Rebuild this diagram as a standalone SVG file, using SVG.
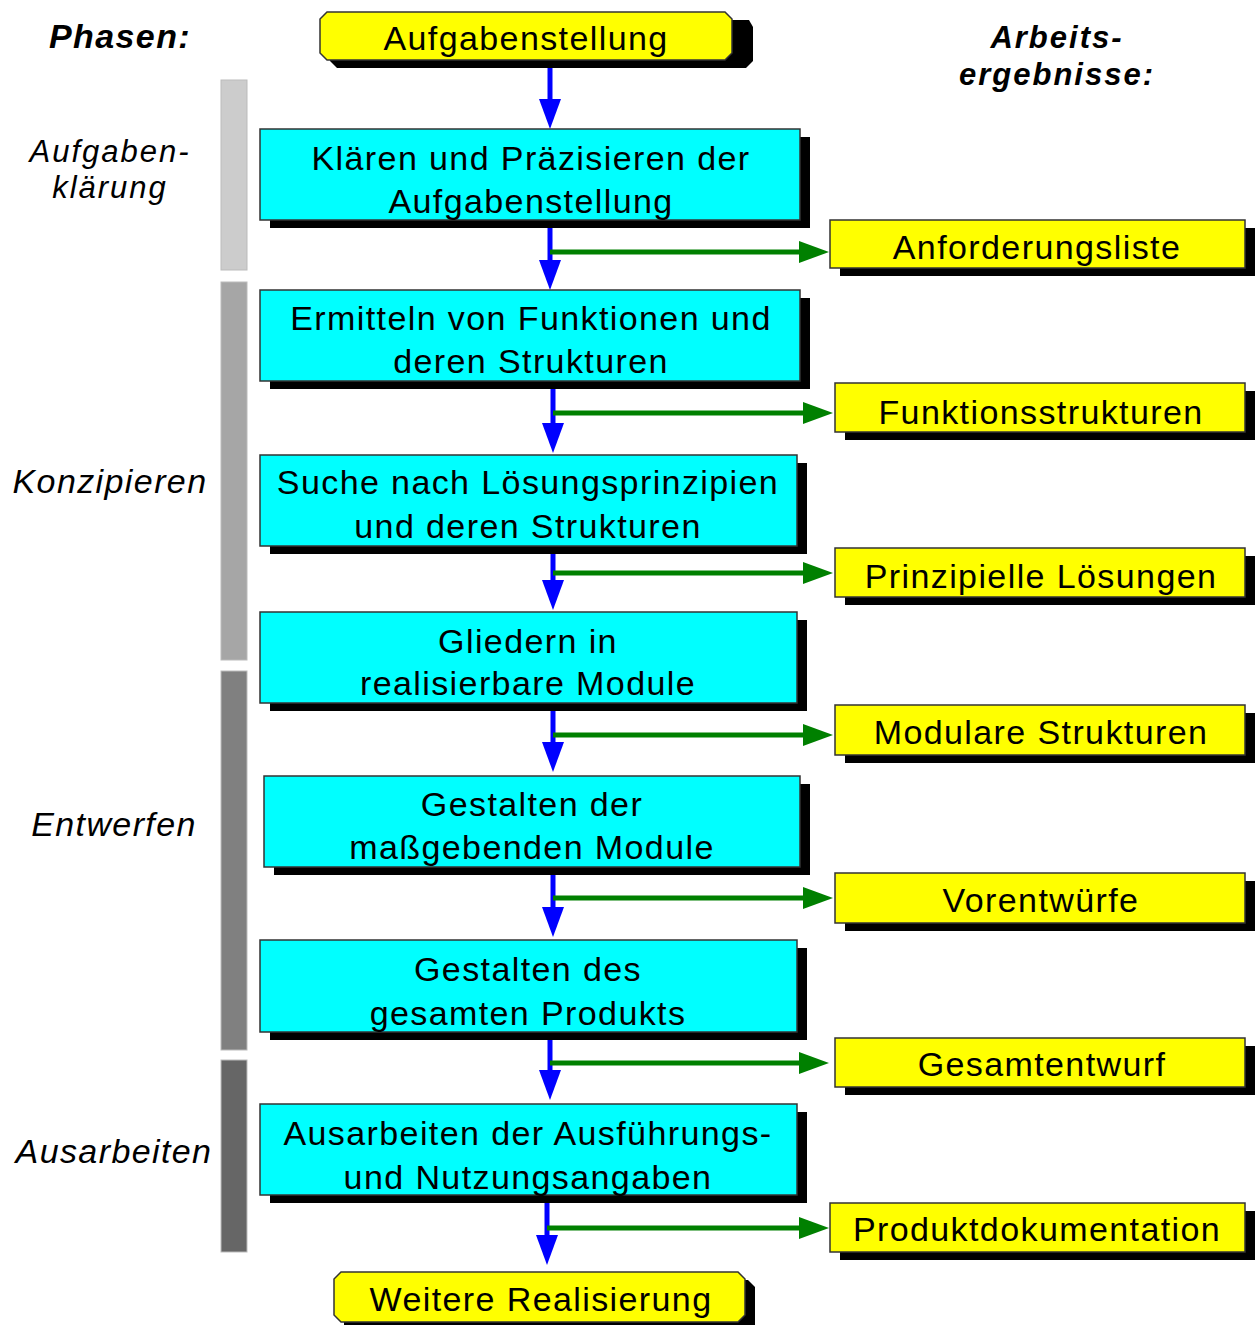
<svg xmlns="http://www.w3.org/2000/svg" width="1257" height="1325" viewBox="0 0 1257 1325">
<defs>
<style>
text{font-family:"Liberation Sans",Arial,sans-serif;font-size:34px;letter-spacing:1.4px;fill:#000;text-anchor:middle}
.it{font-style:italic}
.bi{font-style:italic;font-weight:bold}
.sm{font-size:31px;letter-spacing:2px}
.step{fill:#00ffff;stroke:#333;stroke-width:1.5}
.res{fill:#ffff00;stroke:#333;stroke-width:1.5}
.sh{fill:#000}
.bar{stroke:#bbb;stroke-width:1}
.flow{stroke:#0000ff;stroke-width:5;fill:none}
.out{stroke:#008000;stroke-width:5;fill:none}
</style>
<marker id="ab" markerUnits="userSpaceOnUse" viewBox="0 0 30 22" markerWidth="30" markerHeight="22" refX="0" refY="11" orient="auto">
<path d="M0,0 L30,11 L0,22 Z" fill="#0000ff"/>
</marker>
<marker id="ag" markerUnits="userSpaceOnUse" viewBox="0 0 30 22" markerWidth="30" markerHeight="22" refX="0" refY="11" orient="auto">
<path d="M0,0 L30,11 L0,22 Z" fill="#008000"/>
</marker>
</defs>
<rect width="1257" height="1325" fill="#fff"/>

<g id="phases">
<rect class="bar" x="221" y="80" width="26" height="190" fill="#cccccc"/>
<rect class="bar" x="221" y="282" width="26" height="378" fill="#a6a6a6"/>
<rect class="bar" x="221" y="671" width="26" height="379" fill="#808080"/>
<rect class="bar" x="221" y="1060" width="26" height="192" fill="#666666"/>
<text class="bi" x="120" y="48">Phasen:</text>
<text class="it sm" x="110" y="162">Aufgaben-</text>
<text class="it sm" x="110" y="198">klärung</text>
<text class="it" x="110" y="493">Konzipieren</text>
<text class="it" x="114" y="836">Entwerfen</text>
<text class="it" x="114" y="1163">Ausarbeiten</text>
<text class="bi sm" x="1057" y="48">Arbeits-</text>
<text class="bi sm" x="1057" y="85">ergebnisse:</text>
</g>

<g id="connectors">
<line class="flow" x1="550" y1="68" x2="550" y2="99" marker-end="url(#ab)"/>
<line class="flow" x1="550" y1="228" x2="550" y2="260" marker-end="url(#ab)"/>
<line class="flow" x1="553" y1="388" x2="553" y2="423" marker-end="url(#ab)"/>
<line class="flow" x1="553" y1="552" x2="553" y2="580" marker-end="url(#ab)"/>
<line class="flow" x1="553" y1="710" x2="553" y2="742" marker-end="url(#ab)"/>
<line class="flow" x1="553" y1="874" x2="553" y2="907" marker-end="url(#ab)"/>
<line class="flow" x1="550" y1="1038" x2="550" y2="1070" marker-end="url(#ab)"/>
<line class="flow" x1="547" y1="1202" x2="547" y2="1235" marker-end="url(#ab)"/>
<line class="out" x1="550" y1="252" x2="799" y2="252" marker-end="url(#ag)"/>
<line class="out" x1="553" y1="413" x2="803" y2="413" marker-end="url(#ag)"/>
<line class="out" x1="553" y1="573" x2="803" y2="573" marker-end="url(#ag)"/>
<line class="out" x1="553" y1="735" x2="803" y2="735" marker-end="url(#ag)"/>
<line class="out" x1="553" y1="898" x2="803" y2="898" marker-end="url(#ag)"/>
<line class="out" x1="550" y1="1063" x2="799" y2="1063" marker-end="url(#ag)"/>
<line class="out" x1="547" y1="1228" x2="799" y2="1228" marker-end="url(#ag)"/>
</g>

<g id="start">
<polygon class="sh" points="337,20 749,20 753,27 753,61 746,68 337,68 330,61 330,27"/>
<polygon class="res" points="327,12 725,12 732,19 732,53 725,60 327,60 320,53 320,19"/>
<text x="526" y="50">Aufgabenstellung</text>
</g>

<g id="s1">
<rect class="sh" x="270" y="137" width="540" height="91"/>
<rect class="step" x="260" y="129" width="540" height="91"/>
<text x="531" y="170">Klären und Präzisieren der</text>
<text x="531" y="213">Aufgabenstellung</text>
</g>
<g id="s2">
<rect class="sh" x="270" y="298" width="540" height="91"/>
<rect class="step" x="260" y="290" width="540" height="91"/>
<text x="531" y="330">Ermitteln von Funktionen und</text>
<text x="531" y="373">deren Strukturen</text>
</g>
<g id="s3">
<rect class="sh" x="270" y="463" width="537" height="91"/>
<rect class="step" x="260" y="455" width="537" height="91"/>
<text x="528" y="494">Suche nach Lösungsprinzipien</text>
<text x="528" y="538">und deren Strukturen</text>
</g>
<g id="s4">
<rect class="sh" x="270" y="620" width="537" height="91"/>
<rect class="step" x="260" y="612" width="537" height="91"/>
<text x="528" y="653">Gliedern in</text>
<text x="528" y="695">realisierbare Module</text>
</g>
<g id="s5">
<rect class="sh" x="274" y="784" width="536" height="91"/>
<rect class="step" x="264" y="776" width="536" height="91"/>
<text x="532" y="816">Gestalten der</text>
<text x="532" y="859">maßgebenden Module</text>
</g>
<g id="s6">
<rect class="sh" x="270" y="948" width="537" height="92"/>
<rect class="step" x="260" y="940" width="537" height="92"/>
<text x="528" y="981">Gestalten des</text>
<text x="528" y="1025">gesamten Produkts</text>
</g>
<g id="s7">
<rect class="sh" x="270" y="1112" width="537" height="91"/>
<rect class="step" x="260" y="1104" width="537" height="91"/>
<text x="528" y="1145">Ausarbeiten der Ausführungs-</text>
<text x="528" y="1189">und Nutzungsangaben</text>
</g>

<g id="r1">
<rect class="sh" x="840" y="228" width="415" height="48"/>
<rect class="res" x="830" y="220" width="415" height="48"/>
<text x="1037" y="259">Anforderungsliste</text>
</g>
<g id="r2">
<rect class="sh" x="845" y="391" width="410" height="49"/>
<rect class="res" x="835" y="383" width="410" height="49"/>
<text x="1041" y="424">Funktionsstrukturen</text>
</g>
<g id="r3">
<rect class="sh" x="845" y="556" width="410" height="49"/>
<rect class="res" x="835" y="548" width="410" height="49"/>
<text x="1041" y="588">Prinzipielle Lösungen</text>
</g>
<g id="r4">
<rect class="sh" x="845" y="713" width="410" height="50"/>
<rect class="res" x="835" y="705" width="410" height="50"/>
<text x="1041" y="744">Modulare Strukturen</text>
</g>
<g id="r5">
<rect class="sh" x="845" y="881" width="410" height="50"/>
<rect class="res" x="835" y="873" width="410" height="50"/>
<text x="1041" y="912">Vorentwürfe</text>
</g>
<g id="r6">
<rect class="sh" x="845" y="1046" width="410" height="49"/>
<rect class="res" x="835" y="1038" width="410" height="49"/>
<text x="1042" y="1076">Gesamtentwurf</text>
</g>
<g id="r7">
<rect class="sh" x="840" y="1211" width="415" height="49"/>
<rect class="res" x="830" y="1203" width="415" height="49"/>
<text x="1037" y="1241">Produktdokumentation</text>
</g>

<g id="end">
<polygon class="sh" points="351,1280 748,1280 755,1287 755,1325 344,1325 344,1287"/>
<polygon class="res" points="341,1272 738,1272 745,1279 745,1315 738,1322 341,1322 334,1315 334,1279"/>
<text x="541" y="1311">Weitere Realisierung</text>
</g>
</svg>
